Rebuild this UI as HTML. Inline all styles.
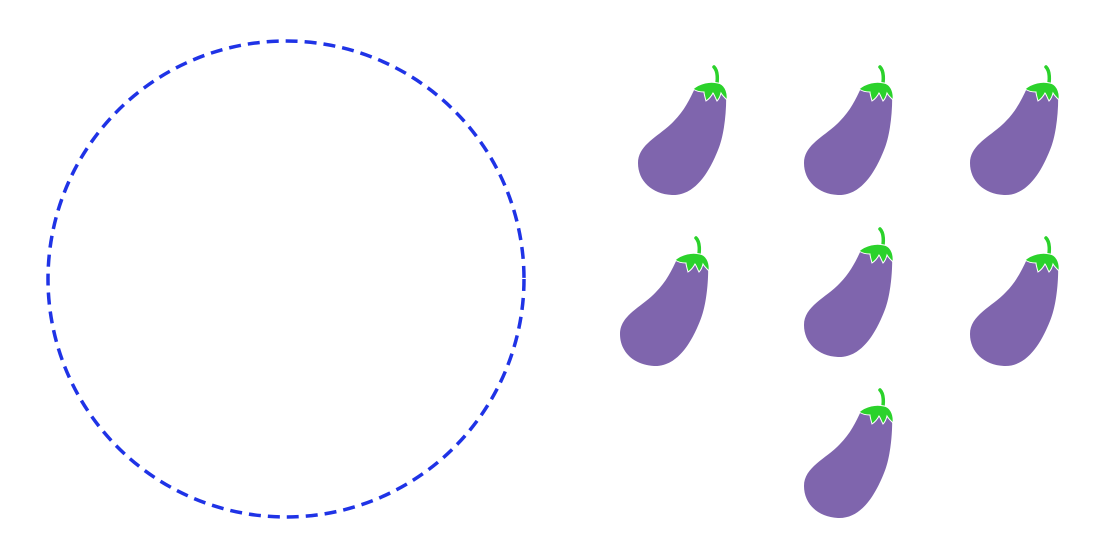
<!DOCTYPE html>
<html><head><style>html,body{margin:0;padding:0;background:#fff;width:1100px;height:550px;overflow:hidden}</style></head>
<body>
<svg width="1100" height="550" viewBox="0 0 1100 550" xmlns="http://www.w3.org/2000/svg">
<defs>
<g id="e">
<path d="M57,22 C70,20 82,20 88,24 C89,45 86,70 80,84 C72,104 58,130 34,129 C14,128 0,115 0,97 C0,78 22,70 36,55 C46,45 52,33 57,22 Z" fill="#7f65ad"/>
<path d="M76,1 C80,5 80,14 78,22" stroke="#2bd22b" stroke-width="3.5" fill="none" stroke-linecap="round"/>
<path d="M55,23 C62,17 72,15 80,17 C86,18 90,25 89,34 C86,31 84,29 83,27 C82,31 80,34 79,35 C77,31 76,28 75,27 C73,31 71,33 68,35 C67,31 66,28 66,26 C62,26 58,25 55,23 Z" fill="#2bd22b" stroke="#fff" stroke-width="1"/>
</g>
</defs>
<circle cx="286" cy="279" r="238" fill="none" stroke="#1f33e6" stroke-width="3.5" stroke-dasharray="12 7"/>
<use href="#e" x="638" y="66"/>
<use href="#e" x="804" y="66"/>
<use href="#e" x="970" y="66"/>
<use href="#e" x="620" y="237"/>
<use href="#e" x="804" y="228"/>
<use href="#e" x="970" y="237"/>
<use href="#e" x="804" y="389"/>
</svg>
</body></html>
